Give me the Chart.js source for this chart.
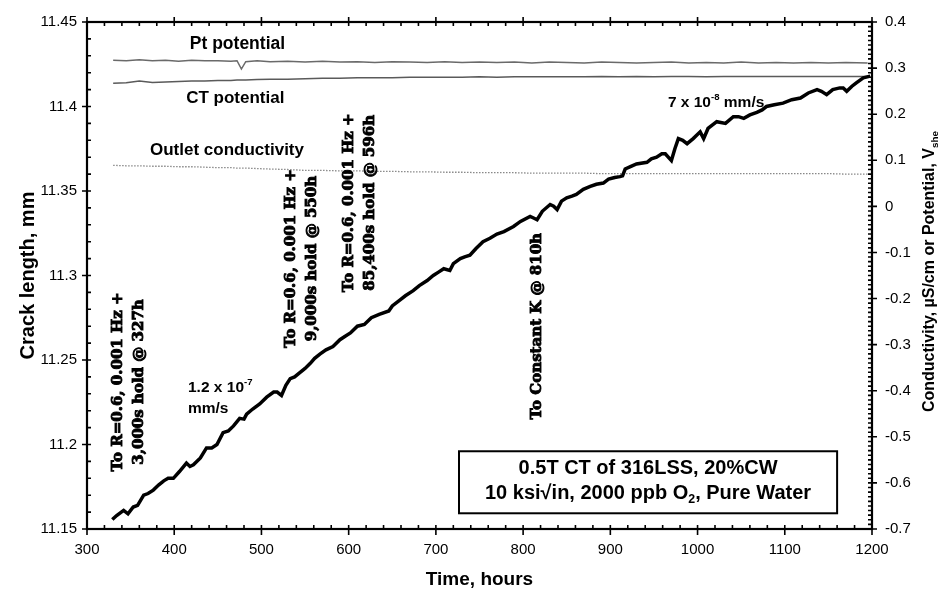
<!DOCTYPE html>
<html>
<head>
<meta charset="utf-8">
<script src="https://cdn.jsdelivr.net/npm/chart.js@4.4.1/dist/chart.umd.min.js"></script>
<style>
  html, body { margin: 0; padding: 0; background: #fff; }
  canvas { display: block; }
</style>
</head>
<body>
<canvas id="crackChart" width="940" height="595"></canvas>
<script>
// crack length (mm) vs time (hours)
const crackHours = [329, 334, 342, 347, 353, 358, 365, 370, 376, 382,
  388, 393, 399, 406, 414, 418, 422, 430, 437, 443,
  449, 456, 462, 468, 475, 480, 483, 490, 498, 506,
  514, 518, 523, 528, 533, 538, 544, 550, 556, 561,
  567, 574, 582, 590, 596, 602, 610, 618, 626, 635,
  646, 650, 659, 665, 674, 681, 690, 697, 703, 709,
  716, 720, 728, 733, 739, 746, 754, 762, 770, 778,
  789, 797, 808, 812, 816, 822, 831, 835, 839, 844,
  850, 856, 861, 869, 877, 884, 892, 898, 905, 911,
  914, 917, 923, 930, 942, 947, 953, 959, 963, 970,
  974, 978, 983, 988, 995, 1003, 1007, 1012, 1022, 1032,
  1041, 1047, 1053, 1060, 1068, 1074, 1079, 1088, 1098, 1108,
  1118, 1127, 1137, 1142, 1148, 1155, 1163, 1167, 1171, 1177,
  1182, 1190, 1198];
const crackLength = [11.1556, 11.158, 11.161, 11.159, 11.163, 11.164, 11.170, 11.171, 11.173, 11.176,
  11.1785, 11.180, 11.180, 11.184, 11.189, 11.187, 11.188, 11.192, 11.198, 11.198,
  11.200, 11.207, 11.208, 11.211, 11.2155, 11.215, 11.218, 11.221, 11.224, 11.228,
  11.231, 11.231, 11.229, 11.235, 11.239, 11.240, 11.2425, 11.245, 11.248, 11.251,
  11.2535, 11.256, 11.258, 11.262, 11.264, 11.266, 11.270, 11.271, 11.275, 11.277,
  11.279, 11.282, 11.2856, 11.288, 11.291, 11.294, 11.297, 11.300, 11.302, 11.304,
  11.303, 11.307, 11.310, 11.311, 11.312, 11.316, 11.320, 11.322, 11.3245, 11.326,
  11.329, 11.332, 11.335, 11.334, 11.333, 11.338, 11.342, 11.341, 11.339, 11.344,
  11.346, 11.347, 11.348, 11.351, 11.3527, 11.354, 11.3547, 11.357, 11.358, 11.3585,
  11.359, 11.363, 11.3644, 11.366, 11.367, 11.369, 11.370, 11.372, 11.372, 11.368,
  11.375, 11.381, 11.380, 11.378, 11.381, 11.385, 11.381, 11.387, 11.391, 11.390,
  11.394, 11.394, 11.393, 11.395, 11.3965, 11.398, 11.400, 11.401, 11.402, 11.404,
  11.405, 11.408, 11.410, 11.409, 11.407, 11.410, 11.411, 11.411, 11.409, 11.412,
  11.414, 11.417, 11.418];

// potentials (V she) and conductivity (uS/cm), right axis
const refHours = [330, 345, 360, 375, 390, 405, 420, 435, 450, 465,
  472, 477, 482, 495, 510,
  530, 550, 570, 590, 610, 630, 650, 670, 690, 710,
  730, 750, 770, 790, 810, 830, 850, 870, 890, 910,
  930, 950, 970, 990, 1010, 1030, 1050, 1070, 1090, 1110,
  1130, 1150, 1170, 1195];
const ptPotential = [0.317, 0.316, 0.318, 0.316, 0.317, 0.315, 0.317, 0.316, 0.316, 0.315,
  0.316, 0.298, 0.314, 0.316, 0.314,
  0.315, 0.313, 0.315, 0.313, 0.314, 0.312, 0.314, 0.313, 0.312, 0.314,
  0.312, 0.313, 0.312, 0.313, 0.311, 0.313, 0.312, 0.311, 0.313, 0.312,
  0.311, 0.312, 0.313, 0.311, 0.312, 0.311, 0.313, 0.311, 0.312, 0.311,
  0.312, 0.311, 0.312, 0.311];
const ctPotential = [0.267, 0.268, 0.272, 0.269, 0.270, 0.271, 0.272, 0.272, 0.273, 0.273,
  0.274, 0.274, 0.274, 0.275, 0.276,
  0.276, 0.277, 0.278, 0.278, 0.279, 0.279, 0.279, 0.280, 0.280, 0.280,
  0.280, 0.281, 0.280, 0.281, 0.281, 0.281, 0.281, 0.281, 0.282, 0.281,
  0.282, 0.281, 0.282, 0.282, 0.281, 0.282, 0.282, 0.282, 0.282, 0.282,
  0.282, 0.282, 0.282, 0.282];
const outletCond = [0.089, 0.088, 0.088, 0.087, 0.087, 0.086, 0.086, 0.085, 0.084, 0.084,
  0.083, 0.083, 0.083, 0.082, 0.081,
  0.080, 0.078, 0.078, 0.077, 0.077, 0.076, 0.076, 0.075, 0.075, 0.074,
  0.074, 0.073, 0.073, 0.073, 0.072, 0.072, 0.072, 0.072, 0.071, 0.071,
  0.071, 0.071, 0.071, 0.071, 0.071, 0.071, 0.071, 0.071, 0.071, 0.071,
  0.071, 0.071, 0.070, 0.070];

const xTicks = [300, 400, 500, 600, 700, 800, 900, 1000, 1100, 1200];
const leftTicks = [11.15, 11.2, 11.25, 11.3, 11.35, 11.4, 11.45];
const rightTicks = [-0.7, -0.6, -0.5, -0.4, -0.3, -0.2, -0.1, 0, 0.1, 0.2, 0.3, 0.4];

const SANS = '"Liberation Sans", Arial, sans-serif';
const SERIF = '"DejaVu Serif", serif';

// text placed at data positions (hours, mm on left axis)
const sideNotes = [
  { h: 347.6, mm: 11.237, lines: ["To R=0.6, 0.001 Hz +", "3,000s hold @ 327h"] },
  { h: 546.5, mm: 11.310, lines: ["To R=0.6, 0.001 Hz +", "9,000s hold @ 550h"] },
  { h: 613, mm: 11.343, lines: ["To R=0.6, 0.001 Hz +", "85,400s hold @ 596h"] },
  { h: 816, mm: 11.270, lines: ["To Constant K @ 810h"] }
];
const flatNotes = [
  { h: 472.5, mm: 11.4366, size: 17.5, align: "center", parts: [["Pt potential", ""]] },
  { h: 470, mm: 11.405, size: 17, align: "center", parts: [["CT potential", ""]] },
  { h: 460.5, mm: 11.374, size: 17, align: "center", parts: [["Outlet conductivity", ""]] },
  { h: 415.8, mm: 11.2334, size: 15.5, align: "left", parts: [["1.2 x 10", ""], ["-7", "sup"]] },
  { h: 415.8, mm: 11.2212, size: 15.5, align: "left", parts: [["mm/s", ""]] },
  { h: 966, mm: 11.402, size: 15.5, align: "left", parts: [["7 x 10", ""], ["-8", "sup"], [" mm/s", ""]] }
];

function pts(xs, ys) { return xs.map((x, i) => ({ x: x, y: ys[i] })); }

function drawRich(ctx, parts, x, y, size, family, align, thick) {
  let total = 0;
  parts.forEach(([t, m]) => {
    ctx.font = `bold ${m ? size * 0.62 : size}px ${family}`;
    total += ctx.measureText(t).width;
  });
  let cx = align === "center" ? x - total / 2 : x;
  ctx.textAlign = "left";
  ctx.textBaseline = "middle";
  parts.forEach(([t, m]) => {
    const s = m ? size * 0.62 : size;
    ctx.font = `bold ${s}px ${family}`;
    const dy = m === "sup" ? -size * 0.38 : m === "sub" ? size * 0.32 : 0;
    ctx.fillText(t, cx, y + dy);
    if (thick) {
      ctx.lineWidth = thick;
      ctx.strokeStyle = ctx.fillStyle;
      ctx.strokeText(t, cx, y + dy);
    }
    cx += ctx.measureText(t).width;
  });
}

const framePlugin = {
  id: "frame",
  afterDatasetsDraw(chart) {
    const { ctx, chartArea: a, scales: { x, y, y2 } } = chart;
    ctx.save();
    ctx.strokeStyle = "#000";
    ctx.lineWidth = 2.2;
    ctx.strokeRect(a.left, a.top, a.right - a.left, a.bottom - a.top);

    ctx.lineWidth = 1.6;
    ctx.beginPath();
    for (let v = 300; v <= 1200; v += 20) {
      const px = x.getPixelForValue(v);
      const major = v % 100 === 0;
      ctx.moveTo(px, a.bottom + (major ? 6 : 0)); ctx.lineTo(px, a.bottom - 4);
      ctx.moveTo(px, a.top - (major ? 5 : 0)); ctx.lineTo(px, a.top + 4);
    }
    for (let i = 0; i <= 30; i++) {
      const py = y.getPixelForValue(11.15 + i * 0.01);
      ctx.moveTo(a.left - (i % 5 === 0 ? 5 : 0), py); ctx.lineTo(a.left + 4, py);
    }
    for (let i = 0; i <= 110; i++) {
      const py = y2.getPixelForValue(-0.7 + i * 0.01);
      ctx.moveTo(a.right + (i % 10 === 0 ? 5 : 0), py); ctx.lineTo(a.right - 4, py);
    }
    ctx.stroke();
    ctx.restore();
  },
  afterDraw(chart) {
    const { ctx, chartArea: a, scales: { x, y } } = chart;
    ctx.save();
    ctx.fillStyle = "#000";

    // axis titles
    const midY = (a.top + a.bottom) / 2;
    ctx.save();
    ctx.translate(a.left - 59, midY);
    ctx.rotate(-Math.PI / 2);
    drawRich(ctx, [["Crack length, mm", ""]], 0, 0, 20, SANS, "center");
    ctx.restore();

    drawRich(ctx, [["Time, hours", ""]], (a.left + a.right) / 2, a.bottom + 51, 19, SANS, "center");

    ctx.save();
    ctx.translate(a.right + 58, midY - 4);
    ctx.rotate(-Math.PI / 2);
    drawRich(ctx, [["Conductivity, \u00b5S/cm or Potential, V", ""], ["she", "sub"]], 0, 0, 16, SANS, "center");
    ctx.restore();

    // rotated event notes
    sideNotes.forEach(n => {
      const px = x.getPixelForValue(n.h);
      const py = y.getPixelForValue(n.mm);
      ctx.save();
      ctx.translate(px, py);
      ctx.rotate(-Math.PI / 2);
      n.lines.forEach((t, i) => {
        const off = (i - (n.lines.length - 1) / 2) * 21;
        drawRich(ctx, [[t, ""]], 0, off, 15, SERIF, "center", 0.9);
      });
      ctx.restore();
    });

    flatNotes.forEach(n => {
      drawRich(ctx, n.parts, x.getPixelForValue(n.h), y.getPixelForValue(n.mm), n.size, SANS, n.align);
    });

    // condition box
    const bx0 = x.getPixelForValue(726.5), bx1 = x.getPixelForValue(1160);
    const by0 = y.getPixelForValue(11.196), by1 = y.getPixelForValue(11.1593);
    ctx.fillStyle = "#fff";
    ctx.fillRect(bx0, by0, bx1 - bx0, by1 - by0);
    ctx.strokeStyle = "#000";
    ctx.lineWidth = 2;
    ctx.strokeRect(bx0, by0, bx1 - bx0, by1 - by0);
    ctx.fillStyle = "#000";
    const bcx = (bx0 + bx1) / 2;
    drawRich(ctx, [["0.5T CT of 316LSS, 20%CW", ""]], bcx, by0 + 17, 20, SANS, "center");
    drawRich(ctx, [["10 ksi\u221ain, 2000 ppb O", ""], ["2", "sub"], [", Pure Water", ""]], bcx, by0 + 42, 20, SANS, "center");
    ctx.restore();
  }
};

const tickFont = { family: SANS, size: 15 };

new Chart(document.getElementById("crackChart"), {
  type: "line",
  data: {
    datasets: [
      { label: "Crack length", data: pts(crackHours, crackLength), yAxisID: "y",
        borderColor: "#000", borderWidth: 3.5, pointRadius: 0, tension: 0 },
      { label: "Pt potential", data: pts(refHours, ptPotential), yAxisID: "y2",
        borderColor: "#6a6a6a", borderWidth: 1.5, pointRadius: 0, tension: 0 },
      { label: "CT potential", data: pts(refHours, ctPotential), yAxisID: "y2",
        borderColor: "#5a5a5a", borderWidth: 1.5, pointRadius: 0, tension: 0 },
      { label: "Outlet conductivity", data: pts(refHours, outletCond), yAxisID: "y2",
        borderColor: "#888", borderWidth: 1.3, borderDash: [1.5, 1.5], pointRadius: 0, tension: 0 }
    ]
  },
  options: {
    responsive: false,
    animation: false,
    layout: { padding: { top: 15, left: 0, right: 0, bottom: 0 } },
    plugins: { legend: { display: false }, tooltip: { enabled: false } },
    scales: {
      x: {
        type: "linear", min: 300, max: 1200,
        afterBuildTicks: s => { s.ticks = xTicks.map(v => ({ value: v })); },
        afterFit: s => { s.height = 66; },
        grid: { display: false, drawTicks: false }, border: { display: false },
        ticks: { padding: 12, font: tickFont, color: "#000", maxRotation: 0, autoSkip: false, callback: v => String(v) }
      },
      y: {
        type: "linear", position: "left", min: 11.15, max: 11.45,
        afterBuildTicks: s => { s.ticks = leftTicks.map(v => ({ value: v })); },
        afterFit: s => { s.width = 87; },
        grid: { display: false, drawTicks: false }, border: { display: false },
        ticks: { padding: 10, font: tickFont, color: "#000", autoSkip: false, callback: v => String(v) }
      },
      y2: {
        type: "linear", position: "right", min: -0.7, max: 0.4,
        afterBuildTicks: s => { s.ticks = rightTicks.map(v => ({ value: v })); },
        afterFit: s => { s.width = 68; },
        grid: { display: false, drawTicks: false }, border: { display: false },
        ticks: { padding: 13, font: tickFont, color: "#000", autoSkip: false, callback: v => String(v) }
      }
    }
  },
  plugins: [framePlugin]
});
</script>
</body>
</html>
